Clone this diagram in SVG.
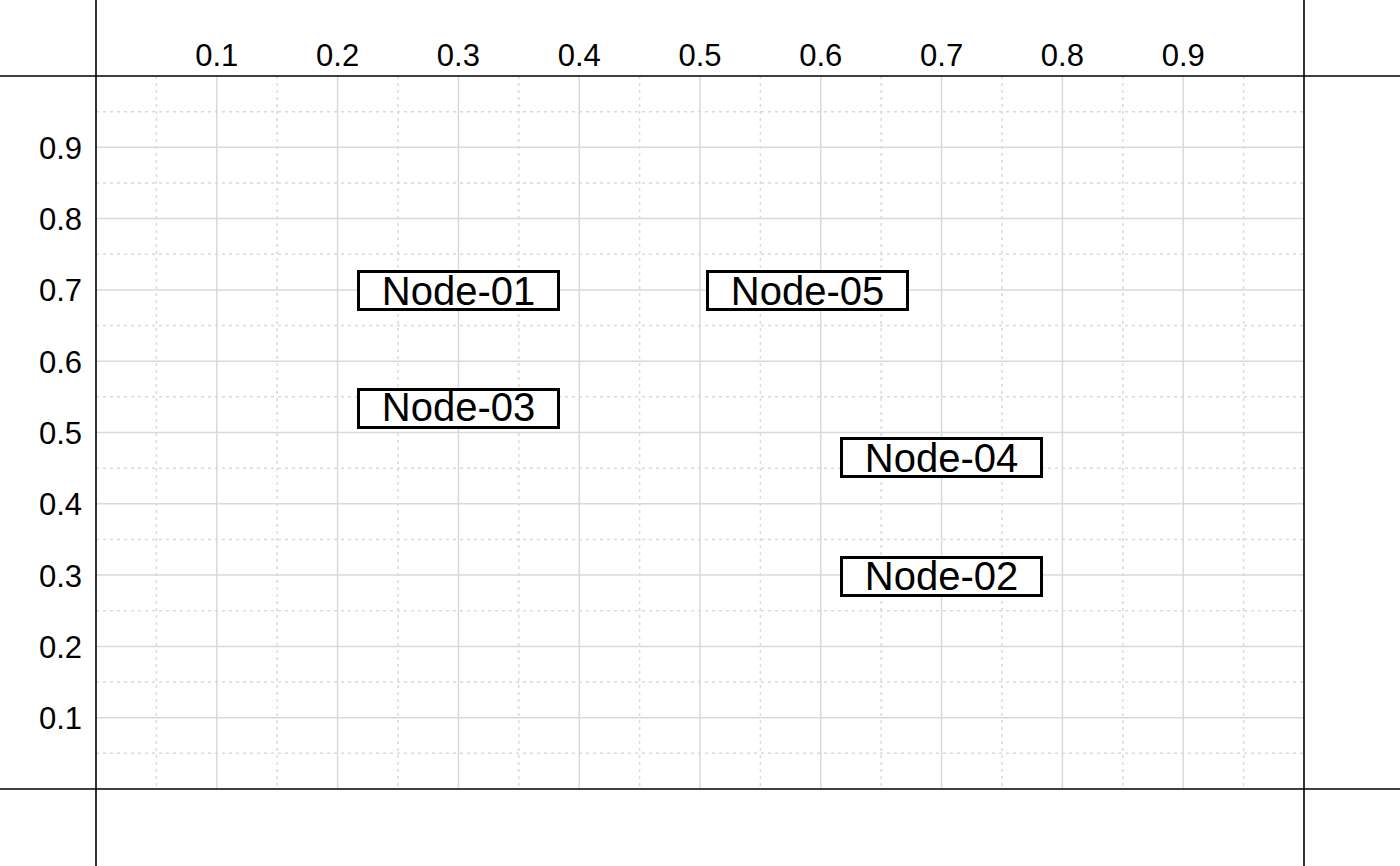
<svg xmlns="http://www.w3.org/2000/svg" width="1400" height="866" viewBox="0 0 1400 866">
<style>
.major{stroke:#d9d9d9;stroke-width:1.5;fill:none}
.minor{stroke:#d9d9d9;stroke-width:1.5;stroke-dasharray:3 4;fill:none}
.axis{stroke:#000;stroke-width:1.6;fill:none}
.tick{font-family:"Liberation Sans",Arial,sans-serif;font-size:31px;fill:#000}
.box{fill:#fff;stroke:#000;stroke-width:3}
.lbl{font-family:"Liberation Sans",Arial,sans-serif;font-size:40px;fill:#000;text-anchor:middle}
</style>
<rect width="1400" height="866" fill="#fff"/>
<g id="grid">
<g class="minor">
<path d="M156.4 76V789M277.2 76V789M398 76V789M518.8 76V789M639.6 76V789M760.4 76V789M881.2 76V789M1002 76V789M1122.8 76V789M1243.6 76V789"/>
<path d="M96 753.35H1304M96 682.05H1304M96 610.75H1304M96 539.45H1304M96 468.15H1304M96 396.85H1304M96 325.55H1304M96 254.25H1304M96 182.95H1304M96 111.65H1304"/>
</g>
<g class="major">
<path d="M216.8 76V789M337.6 76V789M458.4 76V789M579.2 76V789M700 76V789M820.8 76V789M941.6 76V789M1062.4 76V789M1183.2 76V789"/>
<path d="M96 717.7H1304M96 646.4H1304M96 575.1H1304M96 503.8H1304M96 432.5H1304M96 361.2H1304M96 289.9H1304M96 218.6H1304M96 147.3H1304"/>
</g>
</g>
<g id="axes" class="axis">
<path d="M0 76H1400M0 789H1400M96 0V866M1304 0V866"/>
</g>
<g id="xlabels" class="tick" text-anchor="middle">
<text x="216.8" y="66">0.1</text>
<text x="337.6" y="66">0.2</text>
<text x="458.4" y="66">0.3</text>
<text x="579.2" y="66">0.4</text>
<text x="700" y="66">0.5</text>
<text x="820.8" y="66">0.6</text>
<text x="941.6" y="66">0.7</text>
<text x="1062.4" y="66">0.8</text>
<text x="1183.2" y="66">0.9</text>
</g>
<g id="ylabels" class="tick" text-anchor="end">
<text x="82" y="729.2">0.1</text>
<text x="82" y="657.9">0.2</text>
<text x="82" y="586.6">0.3</text>
<text x="82" y="515.3">0.4</text>
<text x="82" y="444">0.5</text>
<text x="82" y="372.7">0.6</text>
<text x="82" y="301.4">0.7</text>
<text x="82" y="230.1">0.8</text>
<text x="82" y="158.8">0.9</text>
</g>
<g id="connectors"></g>
<g id="node-01"><rect class="box" x="358.5" y="271.5" width="200" height="38"/><text class="lbl" x="458.5" y="305">Node-01</text></g>
<g id="node-05"><rect class="box" x="707.5" y="271.5" width="200" height="38"/><text class="lbl" x="807.5" y="305">Node-05</text></g>
<g id="node-03"><rect class="box" x="358.5" y="389.5" width="200" height="38"/><text class="lbl" x="458.5" y="421">Node-03</text></g>
<g id="node-04"><rect class="box" x="841.5" y="438.5" width="200" height="38"/><text class="lbl" x="941.5" y="472">Node-04</text></g>
<g id="node-02"><rect class="box" x="841.5" y="557.5" width="200" height="38"/><text class="lbl" x="941.5" y="590">Node-02</text></g>
</svg>
